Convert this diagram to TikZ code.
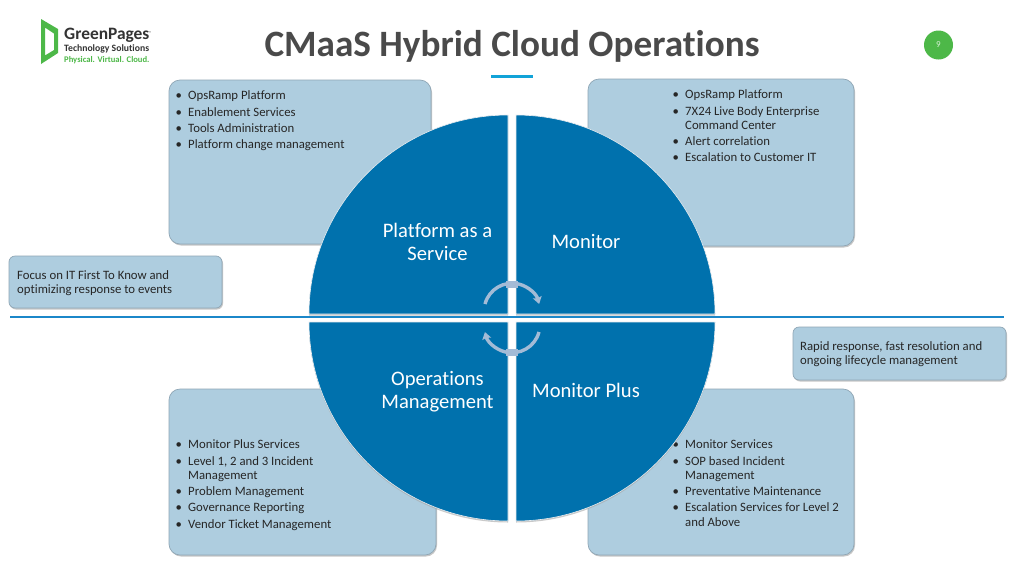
\documentclass[tikz,border=0pt]{standalone}
\usepackage{fontspec}
\setmainfont[Ligatures={NoCommon,NoRequired,NoContextual}]{Carlito}
\usetikzlibrary{arrows.meta}
\definecolor{boxfill}{HTML}{AECDDF}
\definecolor{boxline}{HTML}{8FA6B5}
\definecolor{quadc}{HTML}{0071AD}
\definecolor{rulec}{HTML}{1B87C9}
\definecolor{titlec}{HTML}{4A4A4A}
\definecolor{gpgreen}{HTML}{4DB848}
\definecolor{arrowc}{HTML}{A3BBD6}
\definecolor{accentc}{HTML}{12A3D8}
\newcommand{\bul}[1]{\par\hangindent=12.5pt\hangafter=1\noindent\makebox[12.5pt][l]{•}#1\par}
\newcommand{\listsetup}{\setlength{\parskip}{2.1pt}\hyphenpenalty=10000\exhyphenpenalty=10000\rightskip=0pt plus 1fil\spaceskip=.226em\relax}
\tikzset{
  x=1pt,y=-1pt,
  panel/.style={fill=boxfill,draw=boxline,line width=.7pt,rounded corners=11pt},
  panelsh/.style={fill=black!40,opacity=.55,rounded corners=11pt},
  notebox/.style={fill=boxfill,draw=boxline,line width=.7pt,rounded corners=6pt},
  notesh/.style={fill=black!40,opacity=.55,rounded corners=6pt},
  quadrant/.style={fill=quadc,draw=white!80!boxline,line width=.6pt},
  quadsh/.style={fill=black!35,opacity=.6},
  qlabel/.style={text=white,font=\fontsize{20.6}{23}\selectfont,align=center,inner sep=0pt},
  listtext/.style={anchor=north west,inner sep=0pt,text=black!85,
     font=\fontsize{12.75}{14.2}\selectfont,text width=#1,align=left},
  notetext/.style={anchor=north west,inner sep=0pt,text=black!85,
     font=\fontsize{12.75}{14.2}\selectfont,align=left},
  cyclearc/.style={draw=arrowc,line width=3.4pt},
  cyclehead/.style={cyclearc,-{Stealth[length=7pt,width=9pt,inset=1pt]}},
}
\begin{document}
\begin{tikzpicture}
\useasboundingbox (0,0) rectangle (1024,576);
\fill[white] (0,0) rectangle (1024,576);

% logo
\fill[gpgreen,even odd rule] (41,19) -- (58,29) -- (58,53) -- (41,64) -- cycle
   (45,27.5) -- (45,55.5) -- (54,50) -- (54,33.5) -- cycle;
\node[anchor=west,inner sep=0pt,text=black!80] (logoa) at (64,35) {\fontsize{17.4}{18}\selectfont\bfseries GreenPages\raisebox{5pt}{\fontsize{4}{4}\selectfont ®}};
\node[anchor=west,inner sep=0pt,text=black!80] (logob) at (64,48.5) {\fontsize{9.7}{11}\selectfont\bfseries Technology Solutions};
\node[anchor=west,inner sep=0pt,text=gpgreen] (logoc) at (64,60) {\fontsize{8.6}{11}\selectfont\bfseries Physical. Virtual. Cloud.};

% title
\node[inner sep=0pt,text=titlec] (title) at (512,46.5) {\fontsize{37.2}{40}\selectfont\bfseries CMaaS Hybrid Cloud Operations};
\fill[accentc] (491,74.5) rectangle (533,77.5);
\node[circle,fill=gpgreen,minimum size=29pt,inner sep=0pt,text=white!80!gpgreen,font=\fontsize{9}{10}\selectfont] (pg) at (938.5,45) {9};

% panels
\fill[panelsh] (170,81.5) rectangle (432,245.5);
\draw[panel] (169,80) rectangle (431,244);
\fill[panelsh] (589,80.5) rectangle (855,247.5);
\draw[panel] (588,79) rectangle (854,246);
\fill[panelsh] (170,390.5) rectangle (437,556.5);
\draw[panel] (169,389) rectangle (436,555);
\fill[panelsh] (589,390.5) rectangle (855,556.5);
\draw[panel] (588,389) rectangle (854,555);

% notes
\fill[notesh] (10,257.5) rectangle (223,309.5);
\draw[notebox] (9,256) rectangle (222,308);
\node[notetext] (notel) at (17,270.3) {Focus on IT First To Know and\\optimizing response to events};
\fill[notesh] (794,328.5) rectangle (1007,381.5);
\draw[notebox] (793,327) rectangle (1006,380);
\node[notetext] (noter) at (800,341.5) {Rapid response, fast resolution and\\ongoing lifecycle management};

% list texts
\node[listtext=240pt] (tl) at (175.5,83.2) {\listsetup
\bul{OpsRamp Platform}\bul{Enablement Services}\bul{Tools Administration}\bul{Platform change management}};
\node[listtext=160pt] (tr) at (672.5,82.2) {\listsetup
\bul{OpsRamp Platform}\bul{7X24 Live Body Enterprise Command Center}\bul{Alert correlation}\bul{Escalation to Customer IT}};
\node[listtext=160pt] (bl) at (175.5,432.2) {\listsetup
\bul{Monitor Plus Services}\bul{Level 1, 2 and 3 Incident Management}\bul{Problem Management}\bul{Governance Reporting}\bul{Vendor Ticket Management}};
\node[listtext=170pt] (br) at (672.5,432.2) {\listsetup
\bul{Monitor Services}\bul{SOP based Incident Management}\bul{Preventative Maintenance}\bul{Escalation Services for Level 2 and Above}};

% horizontal rule
\fill[rulec] (10,316.2) rectangle (1004,318.4);

% quadrants
\fill[quadsh] (508,315.5) -- (309,315.5) arc[start angle=180,end angle=270,radius=199] -- cycle;
\fill[quadsh] (516,315.5) -- (516,116.5) arc[start angle=270,end angle=360,radius=199] -- cycle;
\fill[quadsh] (508,323.5) -- (508,522.5) arc[start angle=90,end angle=180,radius=199] -- cycle;
\fill[quadsh] (516,323.5) -- (715,323.5) arc[start angle=0,end angle=90,radius=199] -- cycle;
\draw[quadrant] (508,314) -- (309,314) arc[start angle=180,end angle=270,radius=199] -- cycle;
\draw[quadrant] (516,314) -- (516,115) arc[start angle=270,end angle=360,radius=199] -- cycle;
\draw[quadrant] (508,322) -- (508,521) arc[start angle=90,end angle=180,radius=199] -- cycle;
\draw[quadrant] (516,322) -- (715,322) arc[start angle=0,end angle=90,radius=199] -- cycle;

\node[qlabel] (qa) at (437.5,241.5) {Platform as a\\Service};
\node[qlabel] (qb) at (586,241.5) {Monitor};
\node[qlabel] (qc) at (437.5,392) {Operations\\Management};
\node[qlabel] (qd) at (586,390.5) {Monitor Plus};

% cycle arrows
\draw[cyclehead] (485,304) arc[start angle=195,end angle=345,radius=28];
\draw[cyclehead] (539,332) arc[start angle=15,end angle=165,radius=28];
\fill[arrowc] (506,280.5) rectangle (518,288);
\fill[arrowc] (506,349) rectangle (518,356);
\end{tikzpicture}
\end{document}
